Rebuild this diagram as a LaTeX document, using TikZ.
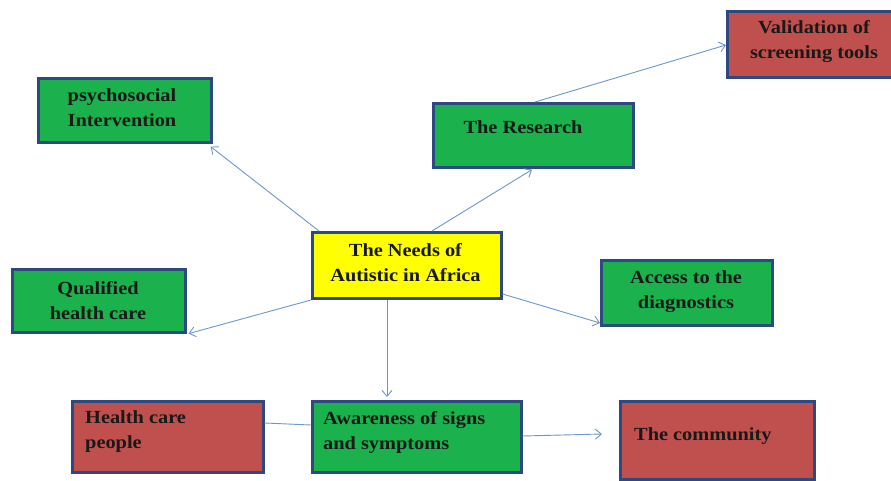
\documentclass[tikz,border=0pt]{standalone}
\usepackage{fontspec}
\setmainfont{Liberation Serif}[FakeStretch=1.1]
\usetikzlibrary{arrows.meta}
\definecolor{boxgreen}{RGB}{27,177,76}
\definecolor{boxred}{RGB}{192,80,77}
\definecolor{boxyellow}{RGB}{255,255,0}
\definecolor{boxborder}{RGB}{44,74,128}
\definecolor{arrowblue}{RGB}{108,150,205}
\tikzset{
  box/.style={draw=boxborder, line width=2.6pt, rectangle, inner sep=0pt, anchor=north west},
  gbox/.style={box, fill=boxgreen},
  rbox/.style={box, fill=boxred},
  ybox/.style={box, fill=boxyellow},
  txt/.style={font=\fontsize{18.5}{25}\selectfont\bfseries, inner sep=0pt, text=black!90},
  conn/.style={draw=arrowblue, line width=0.9pt},
  arr/.style={conn, -{Straight Barb[length=6pt, width=10pt]}},
}
\begin{document}
\begin{tikzpicture}[x=1pt,y=-1pt]
\useasboundingbox (0,0) rectangle (891,481);
% boxes
\node[ybox, minimum width=189pt, minimum height=66pt] (center) at (311,231) {};
\node[gbox, minimum width=173pt, minimum height=64pt] (psy) at (37,77) {};
\node[gbox, minimum width=200pt, minimum height=64pt] (res) at (432,102) {};
\node[rbox, minimum width=168pt, minimum height=66pt] (val) at (726,10) {};
\node[gbox, minimum width=173pt, minimum height=63pt] (qual) at (11,268) {};
\node[gbox, minimum width=171pt, minimum height=65pt] (acc) at (600,259) {};
\node[rbox, minimum width=191pt, minimum height=71pt] (hcp) at (71,400) {};
\node[gbox, minimum width=209pt, minimum height=71pt] (aw) at (311,400) {};
\node[rbox, minimum width=194pt, minimum height=78pt] (com) at (619,400) {};
% texts
\node[txt, align=center] (centert) at (405.5,263) {The Needs of\\Autistic in Africa};
\node[txt, align=center] (psyt) at (122,108) {psychosocial\\Intervention};
\node[txt] (rest) at (523,127) {The Research};
\node[txt, align=center] (valt) at (814,42) {Validation of\\screening tools};
\node[txt, align=center] (qualt) at (98,301) {Qualified\\health care};
\node[txt, align=center] (acct) at (686,291.5) {Access to the\\diagnostics};
\node[txt, align=left, anchor=west] (hcpt) at (85,432) {Health care\\people};
\node[txt, align=left, anchor=west] (awt) at (323,432) {Awareness of signs\\and symptoms};
\node[txt, anchor=west] (comt) at (634,436) {The community};
% connectors
\coordinate (cend) at (602,434);
\draw[arr] ([xshift=8pt]center.north west) -- ([xshift=-2pt,yshift=-3pt]psy.south east);
\draw[arr] ([xshift=121pt]center.north west) -- ([xshift=100pt,yshift=-1pt]res.south west);
\draw[arr] ([xshift=103pt]res.north west) -- ([yshift=-35pt]val.north west);
\draw[arr] ([yshift=-69pt]center.north west) -- ([xshift=2pt]qual.south east);
\draw[arr] ([yshift=-63pt]center.north east) -- ([yshift=-64pt]acc.north west);
\draw[arr] ([xshift=76pt]center.south west) -- ([xshift=76pt,yshift=3pt]aw.north west);
\draw[conn] ([yshift=-23pt]hcp.north east) -- ([yshift=-25pt]aw.north west);
\draw[arr] ([yshift=-36pt]aw.north east) -- (cend);
\end{tikzpicture}
\end{document}
